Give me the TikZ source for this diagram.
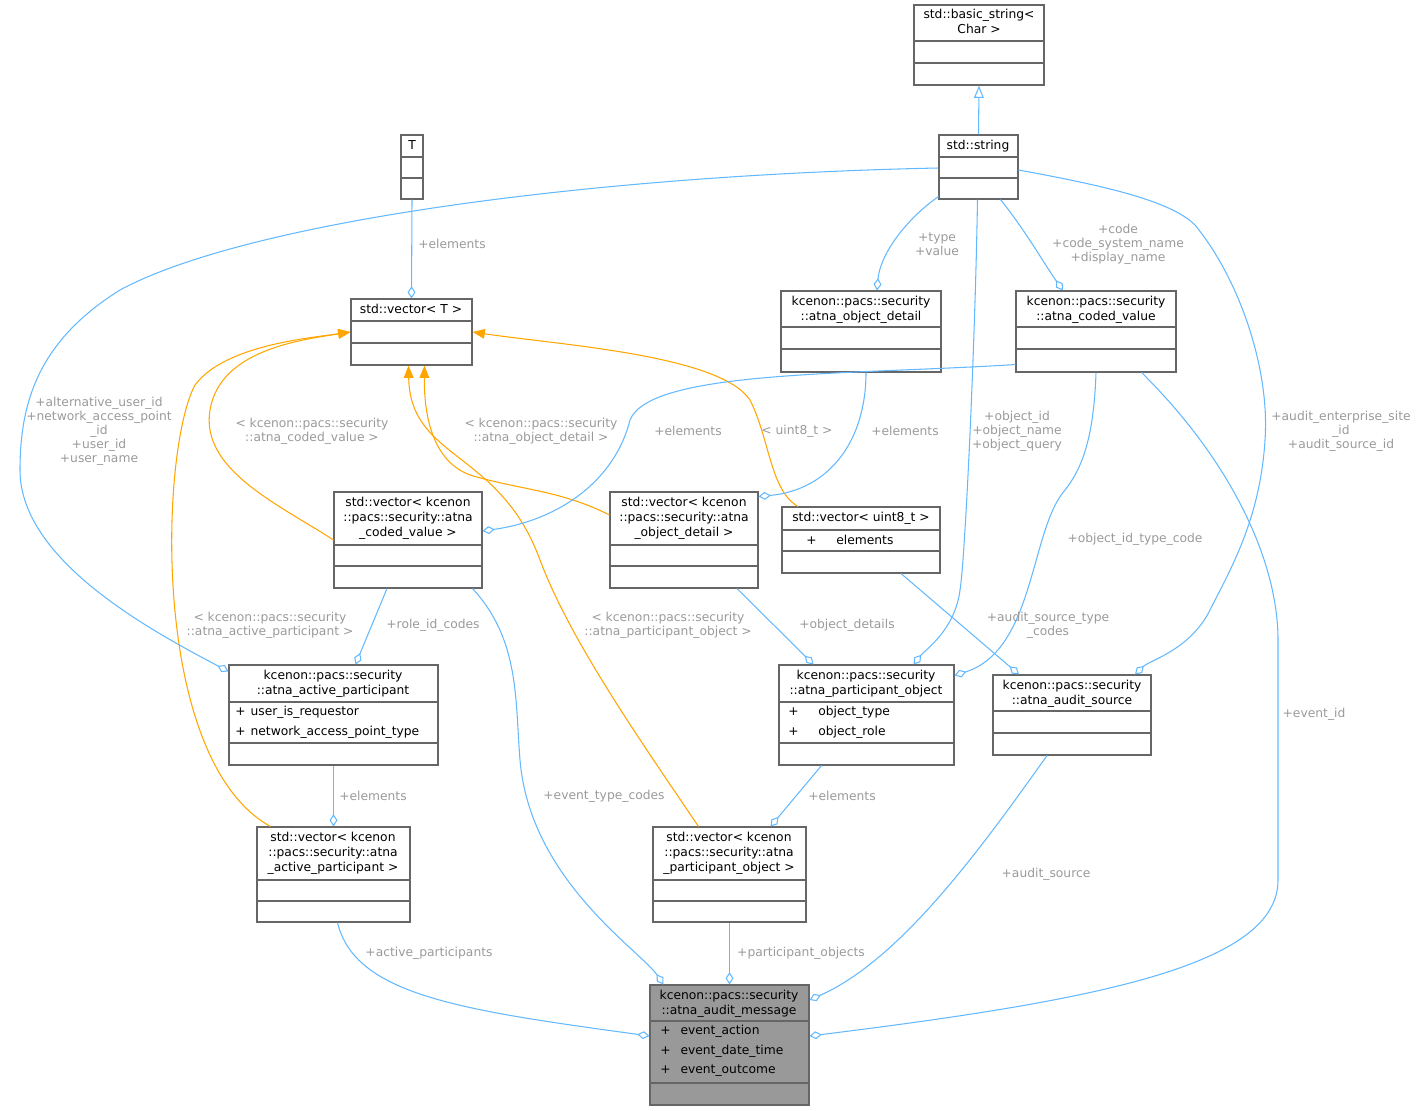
\documentclass[tikz,border=0pt]{standalone}
\usepackage{fontspec}
\setmainfont{DejaVu Sans}
\usetikzlibrary{arrows.meta,fit,calc}
\definecolor{edgeblue}{HTML}{63B8FF}
\definecolor{edgeorange}{HTML}{FFA500}
\definecolor{lblgray}{HTML}{9A9A9A}
\definecolor{boxline}{HTML}{666666}
\definecolor{msgfill}{HTML}{999999}
\tikzset{
  cls/.style={draw=boxline, fill=white, inner sep=0pt, line width=0.6pt},
  sep/.style={draw=boxline, line width=0.6pt},
  ttl/.style={anchor=north, align=center, inner sep=0pt, font=\fontsize{7}{8.5}\selectfont},
  attr/.style={anchor=west, inner sep=0pt, font=\fontsize{7}{8.5}\selectfont},
  lbl/.style={align=center, inner sep=0pt, text=lblgray, font=\fontsize{7}{8}\selectfont},
  use/.style={draw=edgeblue, line width=0.6pt, -{Diamond[open,length=7pt,width=4.5pt]}},
  tmpl/.style={draw=edgeorange, line width=0.6pt, -{Triangle[length=7pt,width=5.5pt]}},
  inh/.style={draw=edgeblue, line width=0.6pt, -{Triangle[open,length=7pt,width=5.5pt]}}
}
\begin{document}
\begin{tikzpicture}[x=0.02cm,y=-0.02cm]
\useasboundingbox (0,0) rectangle (1422,1111);
% class boxes
\node[cls, fit={(914,5) (1044,85)}] (bstr) {};
\draw[sep] (914,41) -- (1044,41) (914,63) -- (1044,63);
\node[ttl] (bstr-t) at (979,9) {std::basic\_string<\\Char >};
\node[cls, fit={(939,135) (1018,199)}] (str) {};
\draw[sep] (939,157) -- (1018,157) (939,178) -- (1018,178);
\node[ttl] (str-t) at (978,140) {std::string};
\node[cls, fit={(401,135) (423,199)}] (tpar) {};
\draw[sep] (401,157) -- (423,157) (401,178) -- (423,178);
\node[ttl] (tpar-t) at (412,140) {T};
\node[cls, fit={(351,299) (472,365)}] (vecT) {};
\draw[sep] (351,321) -- (472,321) (351,343) -- (472,343);
\node[ttl] (vecT-t) at (411,304) {std::vector< T >};
\node[cls, fit={(781,291) (941,372)}] (odet) {};
\draw[sep] (781,327) -- (941,327) (781,349) -- (941,349);
\node[ttl] (odet-t) at (861,296) {kcenon::pacs::security\\::atna\_object\_detail};
\node[cls, fit={(1016,291) (1176,372)}] (cval) {};
\draw[sep] (1016,327) -- (1176,327) (1016,349) -- (1176,349);
\node[ttl] (cval-t) at (1096,296) {kcenon::pacs::security\\::atna\_coded\_value};
\node[cls, fit={(334,492) (482,588)}] (vcod) {};
\draw[sep] (334,545) -- (482,545) (334,566) -- (482,566);
\node[ttl] (vcod-t) at (408,497) {std::vector< kcenon\\::pacs::security::atna\\\_coded\_value >};
\node[cls, fit={(610,492) (758,588)}] (vodt) {};
\draw[sep] (610,545) -- (758,545) (610,566) -- (758,566);
\node[ttl] (vodt-t) at (684,497) {std::vector< kcenon\\::pacs::security::atna\\\_object\_detail >};
\node[cls, fit={(782,507) (940,573)}] (vu8) {};
\draw[sep] (782,530) -- (940,530) (782,551) -- (940,551);
\node[ttl] (vu8-t) at (861,512) {std::vector< uint8\_t >};
\node[attr] (vu8-a) at (806,540) {+\hspace{1.6em}elements};
\node[cls, fit={(229,665) (438,765)}] (ap) {};
\draw[sep] (229,702) -- (438,702) (229,743) -- (438,743);
\node[ttl] (ap-t) at (333,670) {kcenon::pacs::security\\::atna\_active\_participant};
\node[attr] (ap-a1) at (235,712) {+\hspace{0.4em}user\_is\_requestor};
\node[attr] (ap-a2) at (235,732) {+\hspace{0.4em}network\_access\_point\_type};
\node[cls, fit={(779,665) (954,765)}] (pob) {};
\draw[sep] (779,702) -- (954,702) (779,743) -- (954,743);
\node[ttl] (pob-t) at (866,670) {kcenon::pacs::security\\::atna\_participant\_object};
\node[attr] (pob-a1) at (788,712) {+\hspace{1.6em}object\_type};
\node[attr] (pob-a2) at (788,732) {+\hspace{1.6em}object\_role};
\node[cls, fit={(993,675) (1151,755)}] (asrc) {};
\draw[sep] (993,711) -- (1151,711) (993,733) -- (1151,733);
\node[ttl] (asrc-t) at (1072,680) {kcenon::pacs::security\\::atna\_audit\_source};
\node[cls, fit={(257,827) (410,922)}] (va) {};
\draw[sep] (257,880) -- (410,880) (257,901) -- (410,901);
\node[ttl] (va-t) at (333,832) {std::vector< kcenon\\::pacs::security::atna\\\_active\_participant >};
\node[cls, fit={(653,827) (806,922)}] (vpo) {};
\draw[sep] (653,880) -- (806,880) (653,901) -- (806,901);
\node[ttl] (vpo-t) at (729,832) {std::vector< kcenon\\::pacs::security::atna\\\_participant\_object >};
\node[cls, fill=msgfill, fit={(650,985) (809,1105)}] (am) {};
\draw[sep] (650,1021) -- (809,1021) (650,1083) -- (809,1083);
\node[ttl] (am-t) at (729,990) {kcenon::pacs::security\\::atna\_audit\_message};
\node[attr] (am-a1) at (660,1031) {+\hspace{0.8em}event\_action};
\node[attr] (am-a2) at (660,1051) {+\hspace{0.8em}event\_date\_time};
\node[attr] (am-a3) at (660,1071) {+\hspace{0.8em}event\_outcome};
% inheritance
\draw[inh] (str.north) -- (bstr.south);
% template instances
\draw[tmpl] (vcod.west) .. controls (280,505) and (200,470) .. (210,410) .. controls (220,350) and (300,340) .. (vecT.west);
\draw[tmpl] ($(va.north)+(-63,0)$) .. controls (150,760) and (160,450) .. (195,385) .. controls (225,345) and (310,338) .. (vecT.west);
\draw[tmpl] ($(vodt.west)+(0,-25)$) .. controls (560,490) and (520,490) .. (470,475) .. controls (430,460) and (424,410) .. ($(vecT.south)+(13,0)$);
\draw[tmpl] ($(vpo.north)+(-31,0)$) .. controls (640,740) and (570,640) .. (540,560) .. controls (500,450) and (410,460) .. ($(vecT.south)+(-3,0)$);
\draw[tmpl] ($(vu8.north)+(-63,0)$) .. controls (770,490) and (770,440) .. (750,400) .. controls (720,355) and (560,345) .. (vecT.east);
\node[lbl] (l-vc) at (312,431) {< kcenon::pacs::security\\::atna\_coded\_value >};
\node[lbl] (l-va) at (270,625) {< kcenon::pacs::security\\::atna\_active\_participant >};
\node[lbl] (l-vo) at (541,431) {< kcenon::pacs::security\\::atna\_object\_detail >};
\node[lbl] (l-vp) at (668,625) {< kcenon::pacs::security\\::atna\_participant\_object >};
\node[lbl] (l-vu) at (797,431) {< uint8\_t >};
% usage
\draw[use] (tpar.south) -- (vecT.north);
\node[lbl] (l-t) at (452,244) {+elements};
\draw[use] ($(str.west)+(0,1)$) .. controls (600,175) and (250,220) .. (120,290) .. controls (40,340) and (20,400) .. (20,470) .. controls (20,560) and (150,630) .. ($(ap.north west)+(0,7)$);
\node[lbl] (l-sap) at (99,431) {+alternative\_user\_id\\+network\_access\_point\\\_id\\+user\_id\\+user\_name};
\draw[use] ($(str.south west)+(0,-3)$) .. controls (905,220) and (880,255) .. ($(odet.north)+(16,0)$);
\node[lbl] (l-sod) at (937,244) {+type\\+value};
\draw[use] ($(str.south)+(22,0)$) .. controls (1025,230) and (1045,265) .. ($(cval.north)+(-33,0)$);
\node[lbl] (l-scv) at (1118,244) {+code\\+code\_system\_name\\+display\_name};
\draw[use] ($(str.south)+(-1,0)$) .. controls (975,350) and (965,560) .. (960,590) .. controls (955,630) and (925,650) .. ($(pob.north)+(47,0)$);
\node[lbl] (l-spo) at (1017,431) {+object\_id\\+object\_name\\+object\_query};
\draw[use] ($(str.east)+(0,3)$) .. controls (1100,185) and (1170,200) .. (1195,225) .. controls (1240,280) and (1270,370) .. (1265,440) .. controls (1260,520) and (1230,570) .. (1210,610) .. controls (1190,650) and (1150,660) .. ($(asrc.north)+(63,0)$);
\node[lbl] (l-sas) at (1341,431) {+audit\_enterprise\_site\\\_id\\+audit\_source\_id};
\draw[use] ($(cval.south west)+(0,-8)$) .. controls (850,375) and (650,370) .. (630,420) .. controls (615,480) and (560,520) .. ($(vcod.east)+(0,-9)$);
\node[lbl] (l-cvc) at (688,431) {+elements};
\draw[use] ($(odet.south)+(5,0)$) .. controls (866,440) and (830,490) .. ($(vodt.north east)+(0,5)$);
\node[lbl] (l-odv) at (905,431) {+elements};
\draw[use] (cval.south) .. controls (1094,430) and (1085,465) .. (1065,490) .. controls (1030,530) and (1035,650) .. ($(pob.north east)+(0,11)$);
\node[lbl] (l-cvp) at (1135,539) {+object\_id\_type\_code};
\draw[use] ($(cval.south east)+(-35,0)$) .. controls (1230,460) and (1278,560) .. (1278,640) .. controls (1278,760) and (1278,820) .. (1278,880) .. controls (1278,965) and (1100,1000) .. ($(am.east)+(0,-9)$);
\node[lbl] (l-cva) at (1314,714) {+event\_id};
\draw[use] ($(vcod.south)+(-21,0)$) -- ($(ap.north)+(22,0)$);
\node[lbl] (l-vcap) at (433,625) {+role\_id\_codes};
\draw[use] ($(vcod.south east)+(-10,0)$) .. controls (520,640) and (515,700) .. (520,760) .. controls (530,880) and (640,950) .. ($(am.north)+(-66,0)$);
\node[lbl] (l-vcam) at (604,796) {+event\_type\_codes};
\draw[use] ($(vodt.south)+(53,0)$) -- ($(pob.north)+(-53,0)$);
\node[lbl] (l-vopo) at (847,625) {+object\_details};
\draw[use] ($(vu8.south)+(40,0)$) -- ($(asrc.north)+(-53,0)$);
\node[lbl] (l-vuas) at (1048,625) {+audit\_source\_type\\\_codes};
\draw[use] (ap.south) -- (va.north);
\node[lbl] (l-apva) at (373,796) {+elements};
\draw[use] ($(pob.south)+(-45,0)$) -- ($(vpo.north)+(41,0)$);
\node[lbl] (l-povp) at (842,796) {+elements};
\draw[use] ($(va.south)+(4,0)$) .. controls (355,995) and (460,1010) .. ($(am.west)+(0,-9)$);
\node[lbl] (l-vaam) at (429,953) {+active\_participants};
\draw[use] (vpo.south) -- (am.north);
\node[lbl] (l-vpam) at (801,953) {+participant\_objects};
\draw[use] ($(asrc.south)+(-25,0)$) .. controls (980,850) and (900,960) .. ($(am.east)+(0,-45)$);
\node[lbl] (l-asam) at (1046,874) {+audit\_source};
\end{tikzpicture}
\end{document}
